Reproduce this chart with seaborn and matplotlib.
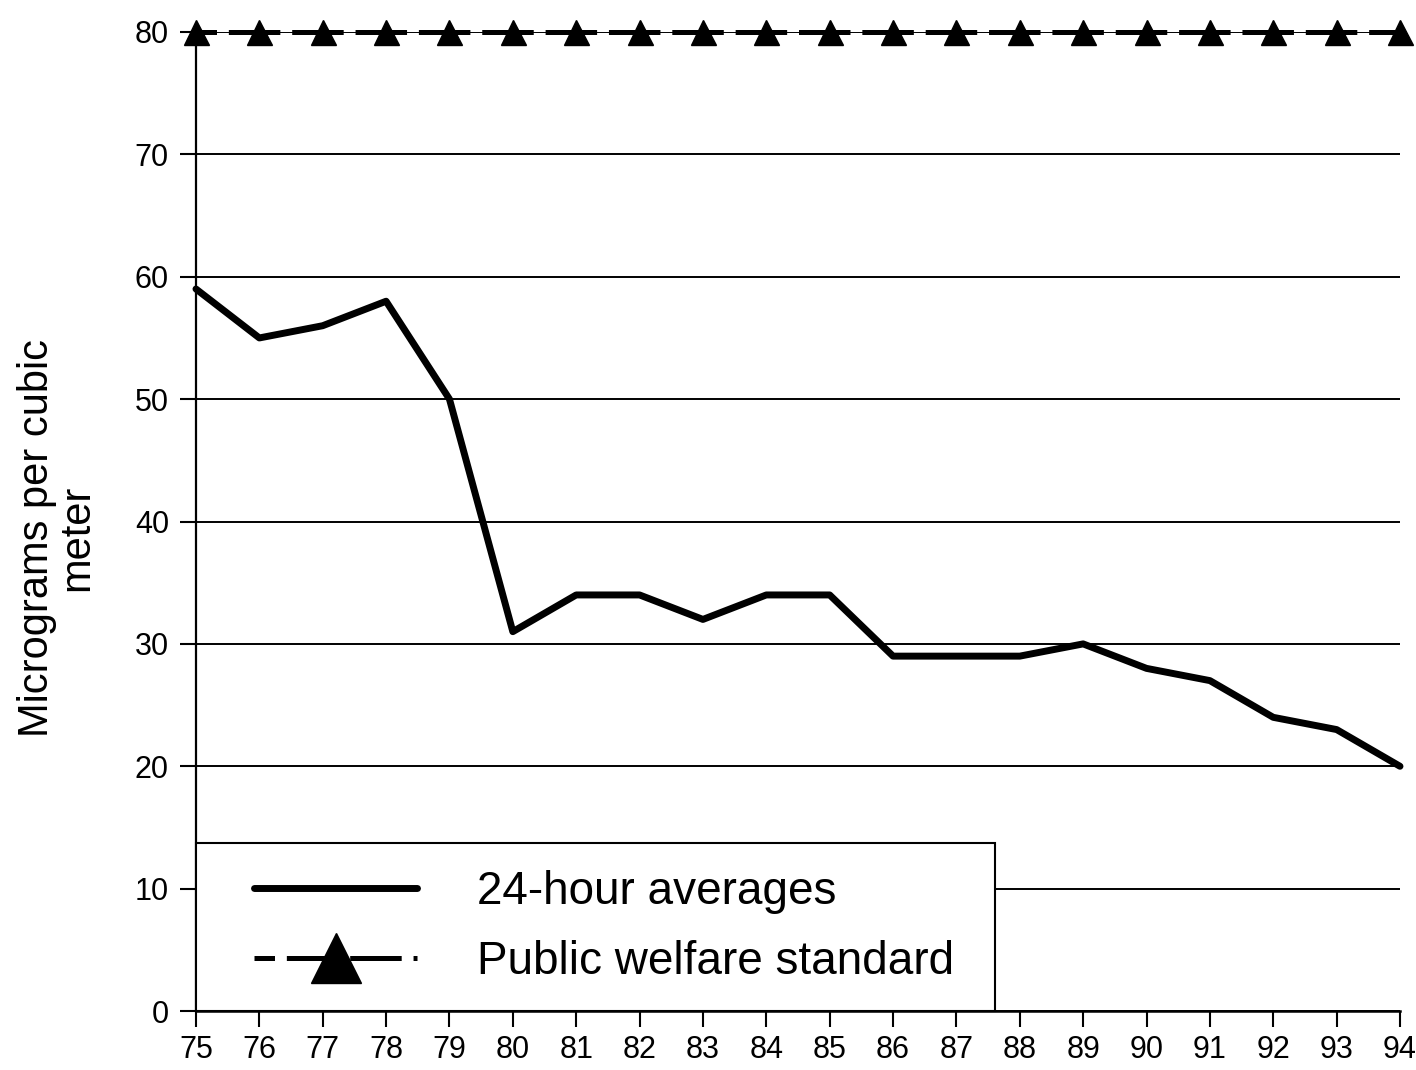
import matplotlib
matplotlib.use("Agg")
import matplotlib.pyplot as plt
from matplotlib.legend_handler import HandlerLine2D
import numpy as np
import pandas as pd
import seaborn as sns

# Annual particulate readings, 1975-1994 (two-digit years)
years = [75, 76, 77, 78, 79, 80, 81, 82, 83, 84,
         85, 86, 87, 88, 89, 90, 91, 92, 93, 94]
averages_24h = [59, 55, 56, 58, 50, 31, 34, 34, 32, 34,
                34, 29, 29, 29, 30, 28, 27, 24, 23, 20]
welfare_standard = [80] * len(years)
y_ticks = [0, 10, 20, 30, 40, 50, 60, 70, 80]

series_names = ["24-hour averages", "Public welfare standard"]
y_label = "Micrograms per cubic\nmeter"

df = pd.DataFrame({"year": years,
                   "avg": averages_24h,
                   "std": welfare_standard})

sns.set_theme(style="white")
plt.rcParams["font.family"] = ["Liberation Sans", "DejaVu Sans"]
plt.rcParams["text.color"] = "black"
plt.rcParams["axes.labelcolor"] = "black"

fig = plt.figure(figsize=(14.16, 10.70), dpi=100)
ax = fig.add_axes([0.1384, 0.0551, 0.8503, 0.9150])

sns.lineplot(data=df, x="year", y="avg", ax=ax, color="black",
             linewidth=5, clip_on=False, label=series_names[0], legend=False)
sns.lineplot(data=df, x="year", y="std", ax=ax, color="black",
             linewidth=3.6, linestyle=(6.2, (10.3, 2.37)),
             marker="^", markersize=18, markeredgewidth=1,
             markeredgecolor="black", markerfacecolor="black",
             clip_on=False, label=series_names[1], legend=False)

ax.set_xlim(75, 94)
ax.set_ylim(0, 80)
ax.set_xticks(years)
ax.set_xticklabels([str(y) for y in years])
ax.set_yticks(y_ticks)
ax.set_xlabel("")
ax.set_ylabel(y_label, fontsize=30, linespacing=1.0, color="black")
ax.yaxis.set_label_coords(-0.082, 0.483)

ax.grid(axis="y", color="black", linewidth=1.4)
ax.grid(axis="x", visible=False)
ax.set_axisbelow(True)

for side in ("top", "right"):
    ax.spines[side].set_visible(False)
ax.spines["left"].set_color("black")
ax.spines["left"].set_linewidth(1.6)
ax.spines["bottom"].set_color("black")
ax.spines["bottom"].set_linewidth(1.8)

ax.tick_params(axis="both", which="major", direction="out", length=11.5,
               width=1.5, color="black", labelsize=22, labelcolor="black")
ax.tick_params(axis="y", pad=8, left=True)
ax.tick_params(axis="x", pad=6, bottom=True)

pad_handler = HandlerLine2D(numpoints=1, xpad=0.66)
handles = ax.get_lines()[:2]
leg = ax.legend(handles=handles, labels=series_names,
                loc="lower left", bbox_to_anchor=(0, 0, 0.664, 0.17),
                mode="expand", borderaxespad=0, fontsize=33,
                handlelength=4.23, handletextpad=1.3, borderpad=0.6,
                labelspacing=0.55, markerscale=2.0, numpoints=1,
                fancybox=False, framealpha=1, edgecolor="black",
                labelcolor="black",
                handler_map={h: pad_handler for h in handles})
leg.get_frame().set_linewidth(1.5)
leg.set_zorder(5)

fig.savefig("out.png", dpi=100, facecolor="white")
